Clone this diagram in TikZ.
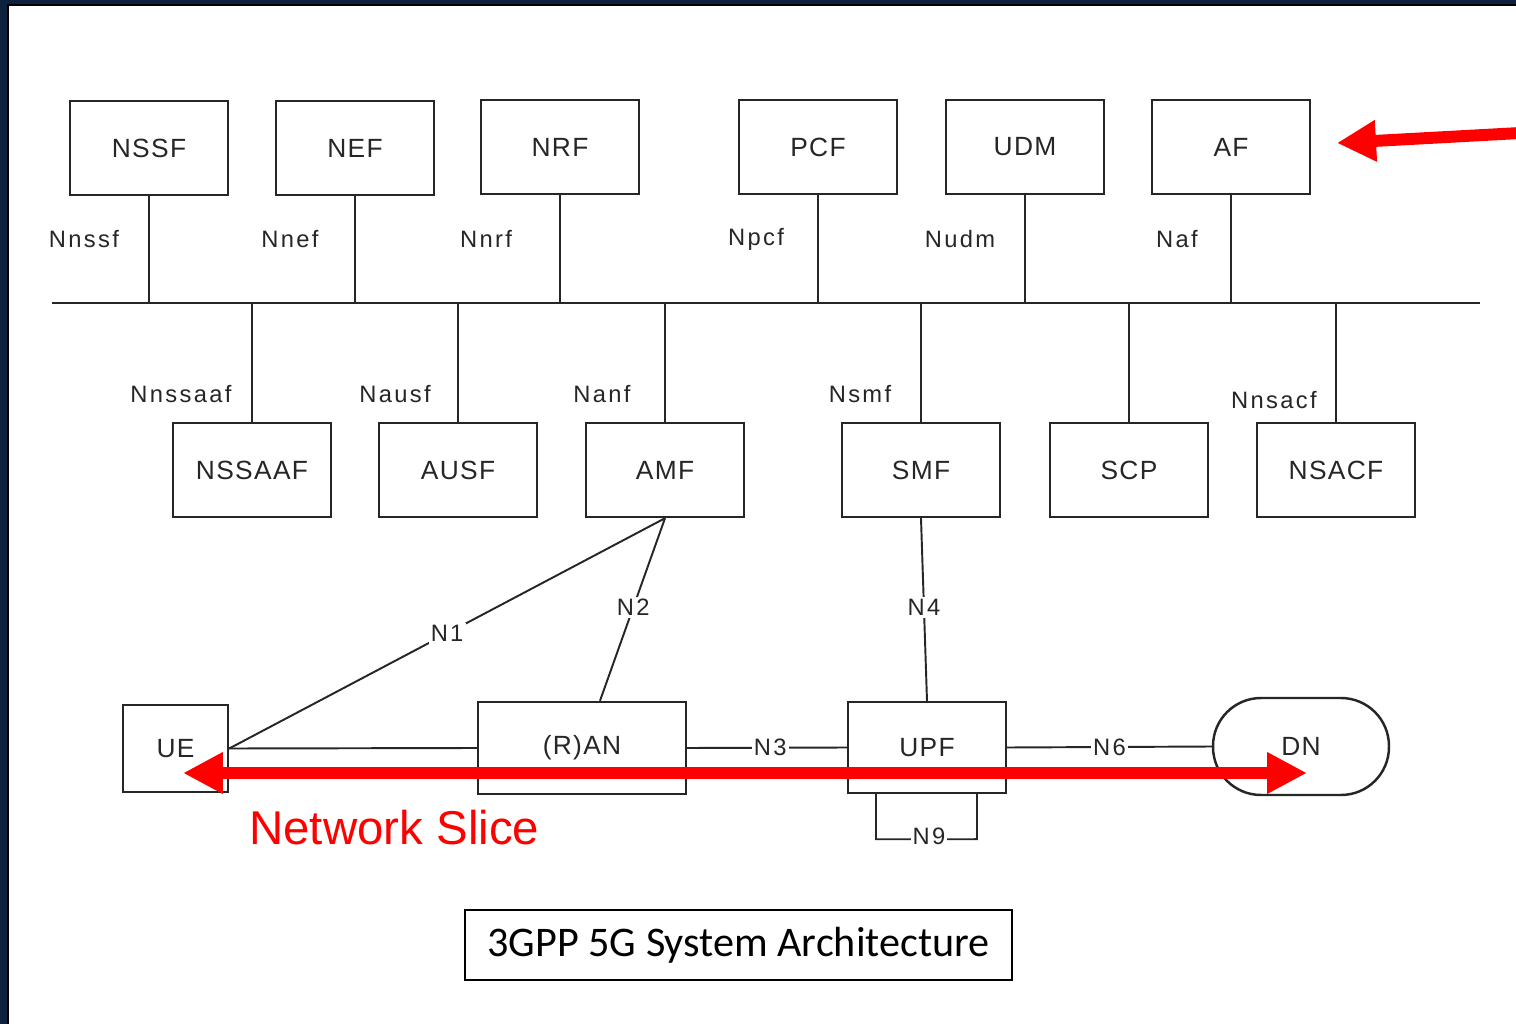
\documentclass[tikz,border=0pt]{standalone}
\usepackage{fontspec}
\setmainfont{Liberation Sans}
\newfontfamily\boxfont[LetterSpace=5]{Liberation Sans}
\newfontfamily\ifacefont[LetterSpace=10]{Liberation Sans}
\newfontfamily\capfont{Carlito}
\usetikzlibrary{arrows.meta}
\definecolor{navy}{HTML}{0E2240}
\definecolor{ink}{HTML}{262626}
\definecolor{slicered}{HTML}{FF0000}
\tikzset{
  nfbox/.style={draw=ink, line width=1.4pt, fill=white, text=ink,
    font=\boxfont\fontsize{15}{18}\selectfont, inner sep=0pt,
    minimum width=3.16cm, minimum height=1.88cm},
  ifname/.style={text=ink, font=\ifacefont\fontsize{13.5}{16}\selectfont, inner sep=0pt},
  linklabel/.style={ifname, fill=white, inner sep=1.2pt},
  link/.style={draw=ink, line width=1.1pt},
  slice/.style={draw=slicered, line width=6.8pt,
    {Triangle[length=0.8cm,width=0.78cm]}-{Triangle[length=0.8cm,width=0.78cm]}},
  pointer/.style={draw=slicered, line width=6.8pt,
    -{Triangle[length=0.78cm,width=0.78cm]}},
}
\begin{document}
\begin{tikzpicture}[x=0.02cm, y=-0.02cm]
\useasboundingbox (0,0) rectangle (1516,1024);
% frame
\fill[navy] (0,0) rectangle (1516,1024);
\fill[white] (8,5) rectangle (1516,1024);
\draw[black, line width=0.6pt] (8,1024) -- (8,5) -- (1516,5);

% bus
\coordinate (busL) at (52,303);
\coordinate (busR) at (1480,303);
\draw[link, line width=1.4pt] (busL) -- (busR);

% upper network functions
\node[nfbox] (nssf) at (149,148) {NSSF};
\node[nfbox] (nef)  at (355,148) {NEF};
\node[nfbox] (nrf)  at (560,147) {NRF};
\node[nfbox] (pcf)  at (818,147) {PCF};
\node[nfbox] (udm)  at (1025,147) {UDM};
\node[nfbox] (af)   at (1231,147) {AF};

% lower network functions
\node[nfbox] (nssaaf) at (252,470) {NSSAAF};
\node[nfbox] (ausf)   at (458,470) {AUSF};
\node[nfbox] (amf)    at (665,470) {AMF};
\node[nfbox] (smf)    at (921,470) {SMF};
\node[nfbox] (scp)    at (1129,470) {SCP};
\node[nfbox] (nsacf)  at (1336,470) {NSACF};

% service-based interfaces to the bus
\foreach \nf in {nssf,nef,nrf,pcf,udm,af}
  \draw[link] (\nf.south) -- (\nf.south |- busL);
\foreach \nf in {nssaaf,ausf,amf,smf,scp,nsacf}
  \draw[link] (\nf.north) -- (\nf.north |- busL);

% interface names
\node[ifname] (l1) at (84,239) {Nnssf};
\node[ifname] (l2) at (290,239) {Nnef};
\node[ifname] (l3) at (486,239) {Nnrf};
\node[ifname] (l4) at (756,239) {Npcf};
\node[ifname] (l5) at (960,239) {Nudm};
\node[ifname] (l6) at (1177,239) {Naf};
\node[ifname] (l7) at (181,394) {Nnssaaf};
\node[ifname] (l8) at (395,394) {Nausf};
\node[ifname] (l9) at (602,394) {Nanf};
\node[ifname] (l10) at (860,394) {Nsmf};
\node[ifname] (l11) at (1274,400) {Nnsacf};

% user plane
\node[nfbox, minimum width=2.1cm, minimum height=1.74cm] (ue) at (175.5,748.5) {UE};
\node[nfbox, minimum width=4.16cm, minimum height=1.84cm] (ran) at (582,748) {(R)AN};
\node[nfbox, minimum width=3.16cm, minimum height=1.82cm] (upf) at (927,747.5) {UPF};
\node[nfbox, minimum width=3.52cm, minimum height=1.94cm, rounded corners=0.96cm] (dn) at (1301,746.5) {DN};

% reference points
\coordinate (ueport) at (ue.east);
\draw[link] (amf.south) -- node[linklabel, pos=0.5] {N1} (ueport);
\draw[link] (amf.south) -- node[linklabel, pos=0.49] {N2} ([xshift=0.36cm]ran.north);
\draw[link] (smf.south) -- node[linklabel, pos=0.49] {N4} (upf.north);
\draw[link] (ueport) -- (ran.west);
\draw[link] (ran.east) -- node[linklabel, pos=0.52] {N3} (upf.west);
\draw[link] (upf.east) -- node[linklabel, pos=0.5] {N6} (dn.west);
\draw[link] ([xshift=-1.02cm]upf.south) -- ++(0,45) coordinate (n9a)
  -- ([xshift=1cm, yshift=-0.9cm]upf.south) coordinate (n9b) -- ([xshift=1cm]upf.south);
\node[linklabel] (n9) at (929,836) {N9};

% network slice span
\coordinate (sliceL) at (183,773);
\coordinate (sliceR) at (1307,773);
\draw[slice] (sliceL) -- (sliceR);
\node[text=slicered, font=\fontsize{27}{32}\selectfont, anchor=west, inner sep=0pt] (slicename) at (249,828) {Network Slice};

% pointer to the application function
\coordinate (ptrFrom) at (1520,133);
\coordinate (ptrTo) at (1337,143);
\draw[pointer] (ptrFrom) -- (ptrTo);

% caption
\node[draw=black, line width=1.2pt, fill=white, minimum width=10.94cm, minimum height=1.4cm,
  inner sep=0pt, font=\capfont\fontsize{24}{28}\selectfont] (caption) at (738.5,945) {3GPP 5G System Architecture};
\end{tikzpicture}
\end{document}
